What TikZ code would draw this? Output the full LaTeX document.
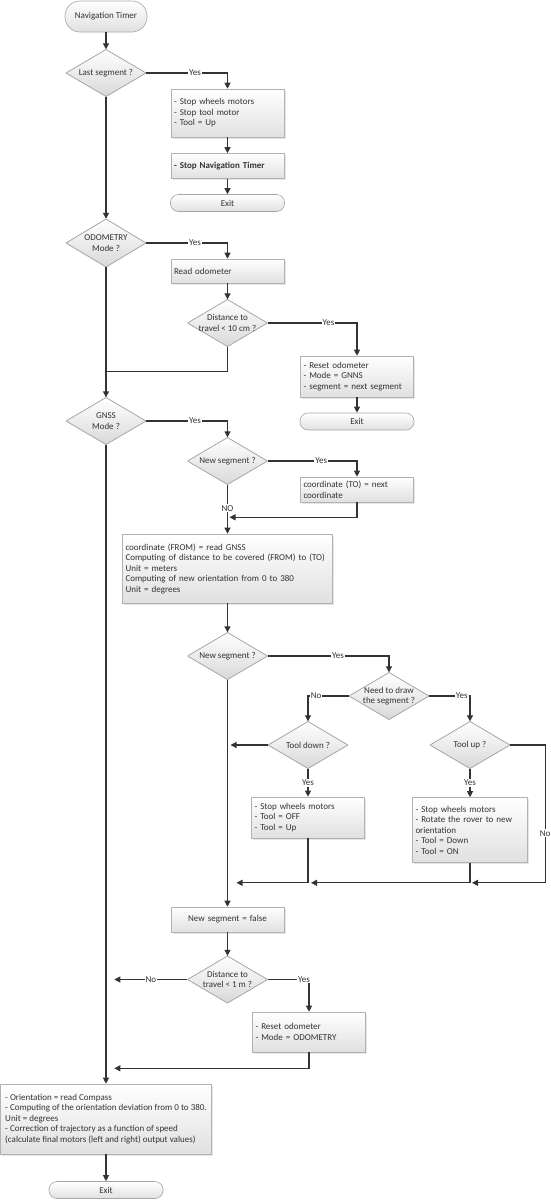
\documentclass[tikz,border=0pt]{standalone}
\usepackage{fontspec}
\setmainfont{Carlito}
\usetikzlibrary{arrows.meta,shadows}

\begin{document}
\begin{tikzpicture}[black!80, >={Triangle[length=6pt,width=6pt]}, font=\fontsize{9}{10.5}\selectfont]
        \tikzstyle{box}=[rectangle,draw=black!30,line width=0.6pt,top color=white,bottom color=black!12,drop shadow={opacity=0.2,shadow xshift=1.5pt,shadow yshift=-1.5pt},inner xsep=3pt,inner ysep=0pt,text width=107pt,minimum height=25pt,align=left]
        \tikzstyle{term}=[rectangle,draw=black!35,line width=0.6pt,top color=white,bottom color=black!12,rounded corners=8pt,inner sep=0pt,minimum width=114pt,minimum height=17pt,align=center]
        \tikzstyle{decision}=[rectangle,inner sep=0pt,minimum width=80pt,minimum height=47pt,align=center,
            path picture={\shadedraw[top color=white,bottom color=black!15,draw=black!35,line width=0.8pt] (path picture bounding box.north) -- (path picture bounding box.east) -- (path picture bounding box.south) -- (path picture bounding box.west) -- cycle;}]
        \tikzstyle{line}=[line width=1.1pt]
        \tikzstyle{lbl}=[fill=white,inner sep=1pt]

        \useasboundingbox (0,0) rectangle (550pt,-1200pt);

        % first part
        \node[term, minimum width=82pt, minimum height=31pt, rounded corners=15pt] (timer) at (106pt,-16.5pt) {Navigation Timer};
        \node[decision, below of=timer, node distance=56.5pt] (last) {Last segment ?};
        \node[box, below of=last, node distance=40pt, xshift=121.5pt, minimum height=48pt] (stop) {- Stop wheels motors\\- Stop tool motor\\- Tool = Up};
        \node[box, below of=stop, node distance=53pt] (stopnav) {\textbf{- Stop Navigation Timer}};
        \node[term, below of=stopnav, node distance=37pt] (exit1) {Exit};

        % odometry
        \node[decision, below of=last, node distance=170pt, minimum height=48pt] (odo) {ODOMETRY\\Mode ?};
        \node[box, below of=odo, node distance=28pt, xshift=121.5pt, minimum height=24pt] (readodo) {Read odometer};
        \node[decision, below of=readodo, node distance=52pt] (dist10) {Distance to\\travel < 10 cm ?};
        \node[box, below of=dist10, node distance=53.5pt, xshift=129.5pt, minimum height=41pt] (resetgnss) {- Reset odometer\\- Mode = GNNS\\- segment = next segment};
        \node[term, below of=resetgnss, node distance=45pt] (exit2) {Exit};

        % gnss
        \node[decision, below of=odo, node distance=178pt] (gnss) {GNSS\\Mode ?};
        \node[decision, below of=gnss, node distance=40pt, xshift=121.5pt] (newseg1) {New segment ?};
        \node[box, below of=newseg1, node distance=28.5pt, xshift=129.5pt] (coordto) {coordinate (TO) = next\\coordinate};
        \node[box, below of=newseg1, node distance=107.5pt, text width=204pt, minimum height=69pt] (compute) {coordinate (FROM) = read GNSS\\Computing of distance to be covered (FROM) to (TO)\\Unit = meters\\Computing of new orientation from 0 to 380\\Unit = degrees};
        \node[decision, below of=compute, node distance=87.5pt] (newseg2) {New segment ?};
        \node[decision, below of=newseg2, node distance=40pt, xshift=161.5pt] (needdraw) {Need to draw\\the segment ?};
        \node[decision, below of=needdraw, node distance=49pt, xshift=-81pt] (tooldown) {Tool down ?};
        \node[decision, below of=needdraw, node distance=49pt, xshift=81pt] (toolup) {Tool up ?};
        \node[box, below of=tooldown, node distance=72.5pt, minimum height=41pt] (stopoff) {- Stop wheels motors\\- Tool = OFF\\- Tool = Up};
        \node[box, below of=toolup, node distance=85pt, text width=109pt, minimum height=65pt] (rotate) {- Stop wheels motors\\- Rotate the rover to new orientation\\- Tool = Down\\- Tool = ON};
        \node[box, below of=newseg2, node distance=263.5pt, align=center] (segfalse) {New segment = false};
        \node[decision, below of=segfalse, node distance=60pt] (dist1) {Distance to\\travel < 1 m ?};
        \node[box, below of=dist1, node distance=52.5pt, xshift=81.5pt, minimum height=40pt] (resetodo) {- Reset odometer\\- Mode = ODOMETRY};

        % end
        \node[box, below of=gnss, node distance=698pt, text width=, minimum width=211pt, minimum height=70pt] (orient) {- Orientation = read Compass\\- Computing of the orientation deviation from 0 to 380.\\Unit = degrees\\- Correction of trajectory as a function of speed\\(calculate final motors (left and right) output values)};
        \node[term, below of=orient, node distance=71pt] (exit3) {Exit};

        \coordinate (join1) at ([yshift=-25pt]odo.south |- dist10.south);
        \path ([yshift=-15pt]coordto.south -| newseg1.south) ++(2pt,0) coordinate (join2);
        \coordinate (turn) at ([xshift=35pt]toolup.east);
        \coordinate (bus) at ([yshift=-20pt]rotate.south);
        \path (bus -| stopoff.south) coordinate (bus1) (bus -| newseg2.south) coordinate (bus0);
        \coordinate (noend) at ([xshift=-73pt]dist1.west);
        \coordinate (join3) at ([yshift=-16pt]resetodo.south -| noend);

        \draw[line, ->] (timer) -- (last);
        \draw[line, ->] (last.east) -| node[lbl, pos=0.3] {Yes} (stop.north);
        \draw[line, ->] (stop) -- (stopnav);
        \draw[line, ->] (stopnav) -- (exit1);
        \draw[line, ->] (last) -- (odo);
        \draw[line, ->] (odo.east) -| node[lbl, pos=0.3] {Yes} (readodo.north);
        \draw[line, ->] (readodo) -- (dist10);
        \draw[line, ->] (dist10.east) -| node[lbl, pos=0.34] {Yes} (resetgnss.north);
        \draw[line, ->] (resetgnss) -- (exit2);
        \draw[line] (dist10.south) |- (join1);
        \draw[line, ->] (odo) -- (gnss);
        \draw[line, ->] (gnss.east) -| node[lbl, pos=0.3] {Yes} (newseg1.north);
        \draw[line, ->] (newseg1.east) -| node[lbl, pos=0.3] {Yes} (coordto.north);
        \draw[line, ->] (coordto.south) |- (join2);
        \draw[line, ->] (newseg1) -- node[lbl, pos=0.48] {NO} (compute);
        \draw[line, ->] (compute) -- (newseg2);
        \draw[line, ->] (newseg2.east) -| node[lbl, pos=0.29] {Yes} (needdraw.north);
        \draw[line, ->] (needdraw.west) -| node[lbl, pos=0.4] {No} (tooldown.north);
        \draw[line, ->] (needdraw.east) -| node[lbl, pos=0.4] {Yes} (toolup.north);
        \draw[line, ->] (tooldown.west) -- ([xshift=3pt]tooldown.west -| newseg2.south);
        \draw[line, ->] (tooldown) -- node[lbl] {Yes} (stopoff);
        \draw[line, ->] (toolup) -- node[lbl] {Yes} (rotate);
        \draw[line, ->] (toolup.east) -- (turn) |- node[lbl, pos=0.32] {No} ([xshift=2pt]bus);
        \draw[line, ->] (rotate.south) -- (bus) -- ([xshift=3pt]bus1);
        \draw[line, ->] (stopoff.south) -- (bus1) -- ([xshift=9pt]bus0);
        \draw[line, ->] (newseg2) -- (segfalse);
        \draw[line, ->] (segfalse) -- (dist1);
        \draw[line, ->] (dist1.west) -- node[lbl] {No} (noend);
        \draw[line, ->] (dist1.east) -| node[lbl, pos=0.44] {Yes} (resetodo.north);
        \draw[line, ->] (resetodo.south) |- (join3);
        \draw[line, ->] (gnss) -- (orient);
        \draw[line, ->] (orient) -- (exit3);
    \end{tikzpicture}
\end{document}
